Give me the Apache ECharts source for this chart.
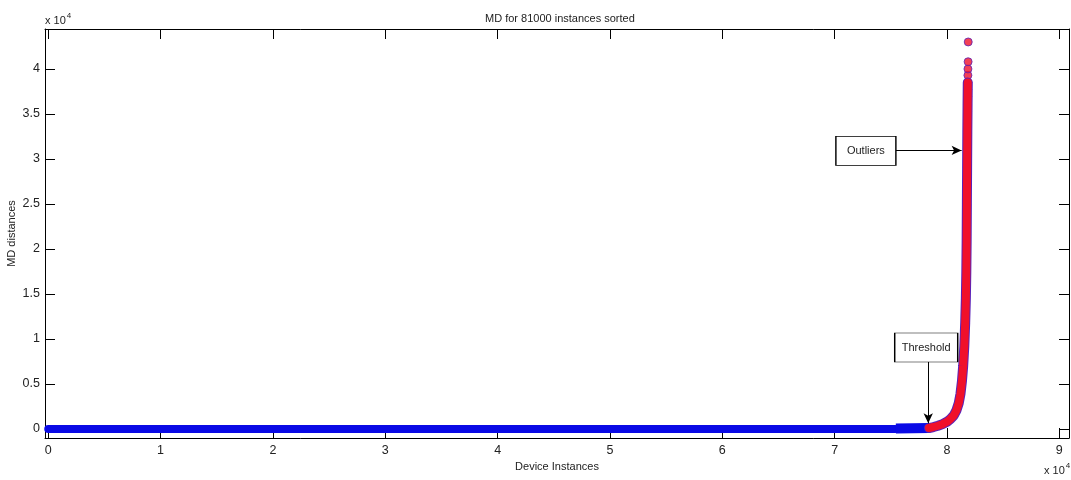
<!DOCTYPE html>
<html>
<head>
<meta charset="utf-8">
<script src="https://cdn.jsdelivr.net/npm/echarts@6/dist/echarts.min.js"></script>
<style>
  html, body { margin: 0; padding: 0; background: #fff; }
  #chart { width: 1071px; height: 480px; }
</style>
</head>
<body>
<div id="chart"></div>
<script>
// axis ranges and tick values (raw units, labels shown as x 10^4)
const xLimits = [-290, 90860]
const yLimits = [-1000, 44440]
const xTicks = [0, 10000, 20000, 30000, 40000, 50000, 60000, 70000, 80000, 90000]
const yTicks = [0, 5000, 10000, 15000, 20000, 25000, 30000, 35000, 40000]

// sorted MD distances, normal part (blue)
const normalFlat = [[0, 0], [75400, 0]]
const normalTail = [[75450, 60], [78400, 110]]

// sorted MD distances above threshold (red)
const outlierCurve = [
  [78400, 110], [78800, 220], [79200, 360], [79600, 540], [80000, 800],
  [80300, 1100], [80600, 1500], [80850, 2100], [81050, 2900], [81200, 3900],
  [81330, 5300], [81440, 7000], [81540, 9200], [81620, 11800], [81680, 14500],
  [81720, 17500], [81750, 21000], [81770, 25000], [81790, 29000], [81810, 33000],
  [81830, 36000], [81850, 38500]
]
const outlierDots = [
  [81830, 35300], [81840, 36100], [81845, 36900], [81850, 37700], [81855, 38500],
  [81860, 39300], [81865, 40000], [81880, 40800], [81890, 43000]
]

// annotation anchors (data units)
const outlierBox = { name: 'Outliers', coord: [72780, 30890] }
const thresholdBox = { name: 'Threshold', coord: [78150, 9056] }
const outlierArrow = [[75430, 30950], [81300, 30950]]
const thresholdArrow = [[78330, 7478], [78330, 633]]

const red = '#f0102a'
const blue = '#0a0ae6'
const edge = '#5a22b8'
const font = 'Liberation Sans, Arial, sans-serif'

const fmt = v => String(v / 10000)

const boxAxis = {
  type: 'value',
  splitLine: { show: false },
  axisLine: { show: true, onZero: false, lineStyle: { color: '#000', width: 1 } },
  axisTick: { show: true, inside: true, length: 10, lineStyle: { color: '#000' } }
}

const sup = {
  b: { fontSize: 11, fill: '#222', fontFamily: font, verticalAlign: 'bottom' },
  s: { fontSize: 8, fill: '#222', fontFamily: font, verticalAlign: 'top', padding: [0, 0, 6, 1] }
}

const option = {
  animation: false,
  backgroundColor: '#fff',
  textStyle: { fontFamily: font },
  title: {
    text: 'MD for 81000 instances sorted',
    left: 480,
    top: 8,
    textStyle: { fontSize: 11, fontWeight: 'normal', color: '#222', fontFamily: font }
  },
  grid: { left: 45, right: 2, top: 29, bottom: 42, containLabel: false, outerBoundsMode: 'none' },
  xAxis: [
    Object.assign({}, boxAxis, {
      min: xLimits[0],
      max: xLimits[1],
      position: 'bottom',
      name: 'Device Instances',
      nameLocation: 'middle',
      nameGap: 23,
      nameMoveOverlap: false,
      nameTextStyle: { fontSize: 11, color: '#222' },
      axisTick: Object.assign({}, boxAxis.axisTick, { customValues: xTicks }),
      axisLabel: { customValues: xTicks, formatter: fmt, margin: 6, fontSize: 12.5, color: '#222' }
    }),
    Object.assign({}, boxAxis, {
      min: xLimits[0],
      max: xLimits[1],
      position: 'top',
      axisTick: Object.assign({}, boxAxis.axisTick, { customValues: xTicks }),
      axisLabel: { show: false }
    })
  ],
  yAxis: [
    Object.assign({}, boxAxis, {
      min: yLimits[0],
      max: yLimits[1],
      position: 'left',
      name: 'MD distances',
      nameLocation: 'middle',
      nameGap: 28,
      nameRotate: 90,
      nameMoveOverlap: false,
      nameTextStyle: { fontSize: 11, color: '#222' },
      axisTick: Object.assign({}, boxAxis.axisTick, { customValues: yTicks }),
      axisLabel: { customValues: yTicks, formatter: fmt, margin: 5, fontSize: 12.5, color: '#222' }
    }),
    Object.assign({}, boxAxis, {
      min: yLimits[0],
      max: yLimits[1],
      position: 'right',
      axisTick: Object.assign({}, boxAxis.axisTick, { customValues: yTicks }),
      axisLabel: { show: false }
    })
  ],
  graphic: [
    { type: 'text', left: 45, top: 12, style: { text: '{b|x 10}{s|4}', rich: sup } },
    { type: 'text', left: 1044, top: 462, style: { text: '{b|x 10}{s|4}', rich: sup } }
  ],
  series: [
    {
      type: 'line',
      data: normalFlat,
      symbol: 'none',
      silent: true,
      lineStyle: { color: blue, width: 8, cap: 'round' }
    },
    {
      type: 'line',
      data: normalTail,
      symbol: 'none',
      silent: true,
      lineStyle: { color: blue, width: 10, cap: 'butt' }
    },
    {
      type: 'line',
      data: outlierCurve,
      symbol: 'none',
      silent: true,
      lineStyle: { color: edge, width: 10, cap: 'round', join: 'round' }
    },
    {
      type: 'line',
      data: outlierCurve,
      symbol: 'none',
      silent: true,
      lineStyle: { color: red, width: 8, cap: 'round', join: 'round' },
      markPoint: {
        silent: true,
        symbol: 'rect',
        itemStyle: { color: '#fff', borderColor: '#000', borderWidth: 1 },
        label: {
          show: true,
          position: 'inside',
          formatter: p => p.name,
          color: '#222',
          fontSize: 11,
          fontFamily: font
        },
        data: [
          { name: outlierBox.name, coord: outlierBox.coord, symbolSize: [60, 29] },
          { name: thresholdBox.name, coord: thresholdBox.coord, symbolSize: [63, 29] }
        ]
      },
      markLine: {
        silent: true,
        symbol: ['none', 'arrow'],
        symbolSize: [7, 10],
        label: { show: false },
        lineStyle: { color: '#000', width: 1, type: 'solid' },
        data: [
          [{ coord: outlierArrow[0] }, { coord: outlierArrow[1] }],
          [{ coord: thresholdArrow[0] }, { coord: thresholdArrow[1] }]
        ]
      }
    },
    {
      type: 'scatter',
      data: outlierDots,
      symbol: 'circle',
      symbolSize: 8,
      silent: true,
      itemStyle: { color: red, borderColor: edge, borderWidth: 1 }
    }
  ]
}

const chart = echarts.init(document.getElementById('chart'), null, { renderer: 'canvas' })
chart.setOption(option)
</script>
</body>
</html>
